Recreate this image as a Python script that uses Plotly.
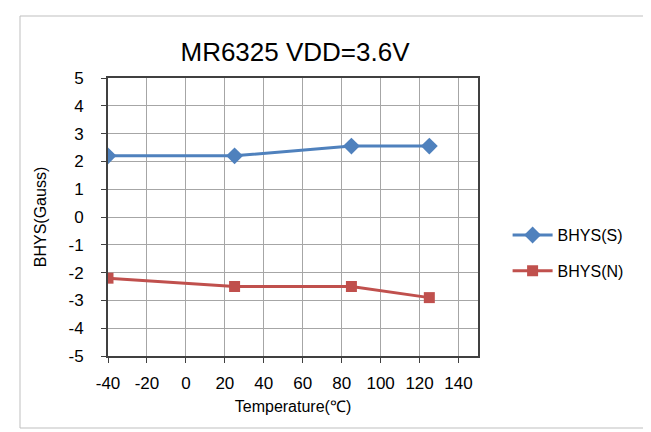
import plotly.graph_objects as go

title = "MR6325 VDD=3.6V"
temps = [-40, 25, 85, 125]
bhys_s = [2.2, 2.2, 2.55, 2.55]
bhys_n = [-2.2, -2.5, -2.5, -2.9]
x_ticks = [-40, -20, 0, 20, 40, 60, 80, 100, 120, 140]
x_tick_labels = ["-40", "-20", "0", "20", "40", "60", "80", "100", "120", "140"]
y_ticks = [5, 4, 3, 2, 1, 0, -1, -2, -3, -4, -5]
y_tick_labels = ["5", "4", "3", "2", "1", "0", "-1", "-2", "-3", "-4", "-5"]

FONT = "Liberation Sans, Arial, sans-serif"

fig = go.Figure()
fig.add_trace(go.Scatter(
    x=temps, y=bhys_s, name="BHYS(S)", mode="lines+markers", legendgroup="s",
    line=dict(color="#4F81BD", width=3),
    marker=dict(symbol="diamond", size=13, color="#4F81BD"),
))
fig.add_trace(go.Scatter(
    x=temps, y=bhys_n, name="BHYS(N)", mode="lines+markers", legendgroup="n",
    line=dict(color="#C0504D", width=3),
    marker=dict(symbol="square", size=11, color="#C0504D"),
))

fig.update_layout(
    width=651, height=432,
    margin=dict(l=100, r=181, t=70, b=84),
    paper_bgcolor="white", plot_bgcolor="white",
    font=dict(family=FONT, color="#000000"),
    title=dict(text=title, x=287 / 651, xanchor="center",
               y=1 - 44 / 432, yanchor="middle",
               font=dict(size=26, family=FONT, color="#000000")),
    showlegend=True,
    legend=dict(x=1.08, xanchor="left", y=0.37, yanchor="middle",
                font=dict(size=16, family=FONT, color="#000000"),
                bgcolor="rgba(0,0,0,0)", tracegroupgap=12, itemwidth=40),
    xaxis=dict(range=[-40, 150], tickvals=x_ticks, ticktext=x_tick_labels,
               showgrid=True, gridcolor="#A6A6A6", gridwidth=1,
               showline=True, linecolor="#404040", linewidth=2, mirror=True,
               ticks="outside", ticklen=5, tickcolor="#404040",
               ticklabelstandoff=6,
               tickfont=dict(size=17, family=FONT, color="#000000"),
               zeroline=False,
               title=dict(text="Temperature(℃)", standoff=8,
                          font=dict(size=16, family=FONT, color="#000000"))),
    yaxis=dict(range=[-5, 5], tickvals=y_ticks, ticktext=y_tick_labels,
               showgrid=True, gridcolor="#A6A6A6", gridwidth=1,
               showline=True, linecolor="#404040", linewidth=2, mirror=True,
               ticks="outside", ticklen=5, tickcolor="#404040",
               ticklabelstandoff=14,
               tickfont=dict(size=17, family=FONT, color="#000000"),
               zeroline=False,
               title=dict(text="BHYS(Gauss)", standoff=18,
                          font=dict(size=16, family=FONT, color="#000000"))),
)

fig.add_shape(type="rect", xref="paper", yref="paper",
              x0=-88 / 370, x1=545 / 370, y0=(348 - 420) / 278, y1=340 / 278,
              line=dict(color="#BFBFBF", width=1), layer="below")

fig.write_html("out.html")
